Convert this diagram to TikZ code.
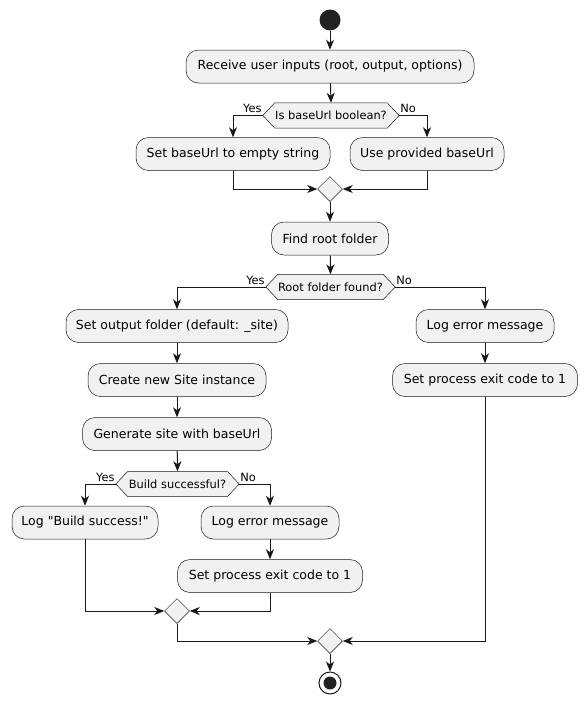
\documentclass[tikz,border=0pt]{standalone}
\usepackage{fontspec}
\setmainfont{DejaVu Sans}
\newfontfamily\plainfont{DejaVu Sans}
\usetikzlibrary{arrows.meta,calc,shapes.geometric,backgrounds}
\definecolor{boxfill}{HTML}{F1F1F1}
\definecolor{ink}{HTML}{181818}
\definecolor{startc}{HTML}{222222}
\begin{document}
\begin{tikzpicture}[x=1pt,y=-1pt,
  act/.style={draw=ink, line width=0.5pt, fill=boxfill, rounded corners=12.5pt, minimum height=33pt, inner xsep=0pt, font=\fontsize{12.5}{15}\selectfont},
  dtext/.style={inner sep=0pt, minimum height=25pt, font=\fontsize{11.4}{13}\selectfont},
  hexa/.style={draw=ink, line width=0.5pt, fill=boxfill},
  merge/.style={diamond, draw=ink, line width=0.5pt, fill=boxfill, minimum width=25pt, minimum height=25pt, inner sep=0pt},
  lbl/.style={inner sep=0pt, font=\fontsize{11.4}{13}\selectfont},
  arr/.style={draw=ink, line width=1pt, -{Stealth[length=10pt,width=8pt,inset=3pt]}},
  conn/.style={draw=ink, line width=1pt}]
\useasboundingbox (0,0) rectangle (587,705);

% nodes
\node[circle, fill=startc, minimum size=21pt, inner sep=0pt] (start) at (330,20) {};
\node[act, minimum width=288pt] (b1) at (330,66.5) {Receive user inputs (root, output, options)};
\node[dtext, minimum width=112pt] (d1) at (331,115.5) {Is baseUrl boolean?};
\node[act, minimum width=194pt] (b2) at (233,154) {Set baseUrl to empty string};
\node[act, minimum width=154pt] (b3) at (427,154) {Use provided baseUrl};
\node[merge] (m1) at (330,189) {};
\node[act, minimum width=117pt] (fr) at (330,238.5) {Find root folder};
\node[dtext, minimum width=103pt] (d2) at (330.5,287) {Root folder found?};
\node[act, minimum width=222pt] (bl1) at (177,326) {Set output folder (default: {\char"5F}site)};
\node[act, minimum width=138pt] (br1) at (485,326) {Log error message};
\node[act, minimum width=178pt] (bl2) at (177,380) {Create new Site instance};
\node[act, minimum width=185pt] (br2) at (485,380) {Set process exit code to 1};
\node[act, minimum width=189pt] (bl3) at (177,434) {Generate site with baseUrl};
\node[dtext, minimum width=99pt] (d3) at (177.5,484) {Build successful?};
\node[act, minimum width=146pt] (x1) at (85,522.5) {\plainfont Log "Build success!"};
\node[act, minimum width=138pt] (y1) at (270,522.5) {Log error message};
\node[act, minimum width=185pt] (y2) at (270,576) {Set process exit code to 1};
\node[merge] (m2) at (177,611) {};
\node[merge] (m3) at (330,641) {};
\node[circle, draw=ink, line width=1pt, fill=white, minimum size=22pt, inner sep=0pt] (end) at (330,683) {};
\node[circle, fill=startc, minimum size=13pt, inner sep=0pt] (endin) at (end) {};

% hexagon tips
\foreach \d in {d1,d2,d3}{
  \coordinate (\d l) at ($(\d.west)+(-12,0)$);
  \coordinate (\d r) at ($(\d.east)+(12,0)$);
}
\begin{scope}[on background layer]
  \foreach \d in {d1,d2,d3}
    \path[hexa] (\d.north west) -- (\d.north east) -- (\d r) -- (\d.south east) -- (\d.south west) -- (\d l) -- cycle;
\end{scope}

% labels
\node[lbl, anchor=base east] (y1l) at ($(d1l)+(-1,-3)$) {Yes};
\node[lbl, anchor=base west] (n1l) at ($(d1r)+(1,-3)$) {No};
\node[lbl, anchor=base east] (y2l) at ($(d2l)+(-1,-3)$) {Yes};
\node[lbl, anchor=base west] (n2l) at ($(d2r)+(1,-3)$) {No};
\node[lbl, anchor=base east] (y3l) at ($(d3l)+(-1,-3)$) {Yes};
\node[lbl, anchor=base west] (n3l) at ($(d3r)+(1,-3)$) {No};

% connectors
\draw[arr] (start) -- (b1);
\draw[arr] (b1) -- (d1.north);
\draw[arr] (d1l) -| (b2.north);
\draw[arr] (d1r) -| (b3.north);
\draw[arr] (b2.south) |- (m1.west);
\draw[arr] (b3.south) |- (m1.east);
\draw[arr] (m1.south) -- (fr.north);
\draw[arr] (fr) -- (d2.north);
\draw[arr] (d2l) -| (bl1.north);
\draw[arr] (d2r) -| (br1.north);
\draw[arr] (bl1) -- (bl2);
\draw[arr] (bl2) -- (bl3);
\draw[arr] (bl3) -- (d3.north);
\draw[arr] (br1) -- (br2);
\draw[arr] (d3l) -| (x1.north);
\draw[arr] (d3r) -| (y1.north);
\draw[arr] (y1) -- (y2);
\draw[arr] (x1.south) |- (m2.west);
\draw[arr] (y2.south) |- (m2.east);
\draw[arr] (m2.south) |- (m3.west);
\draw[arr] (br2.south) |- (m3.east);
\draw[arr] (m3.south) -- (end.north);
\end{tikzpicture}
\end{document}
